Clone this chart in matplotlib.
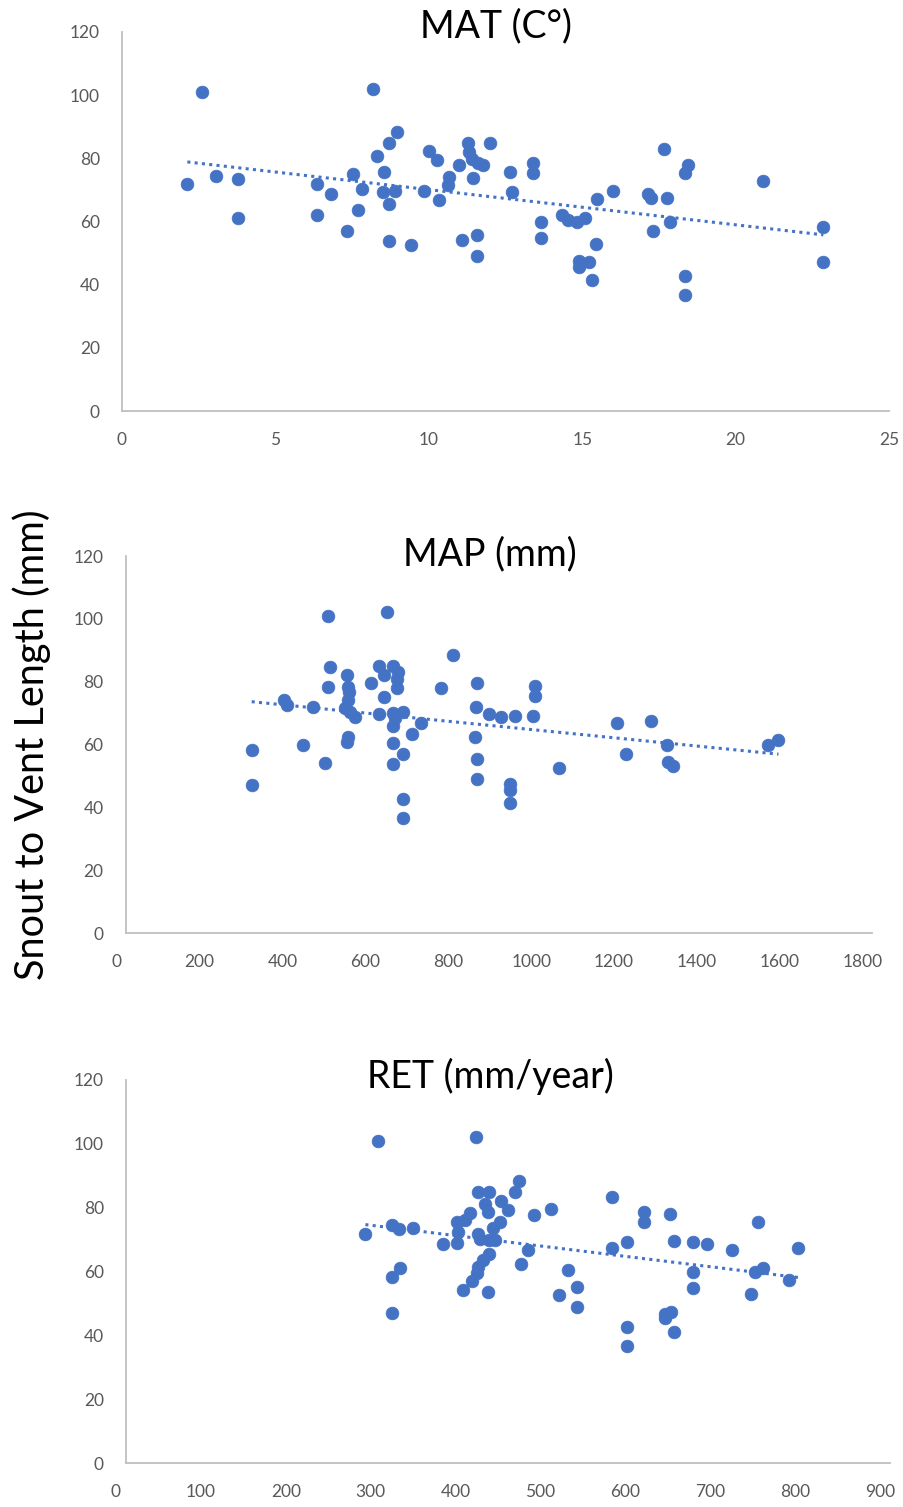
import numpy as np
import matplotlib
matplotlib.use("Agg")
import matplotlib.pyplot as plt
from matplotlib.transforms import ScaledTranslation

plt.rcParams['font.family'] = ['Lato', 'DejaVu Sans']

# ---------------- data ----------------
mat_x = [2.6, 8.19, 2.13, 3.06, 3.79, 3.79, 6.35, 6.35, 6.81, 7.54, 7.83, 7.70, 7.34,
         8.30, 8.71, 8.95, 8.54, 8.52, 8.90, 8.71, 8.71, 9.42, 9.84, 10.02, 10.28, 10.33,
         10.67, 10.62, 10.98, 11.27, 11.32, 11.40, 11.61, 11.78, 12.0, 11.45, 11.09, 11.56,
         11.56, 12.65, 12.70, 13.41, 13.41, 13.65, 13.65, 14.35, 14.55, 14.84, 15.09, 15.47,
         16.01, 14.9, 14.9, 15.23, 15.44, 15.31, 17.15, 17.23, 17.75, 17.67, 18.35, 18.46,
         17.86, 17.32, 18.35, 18.35, 20.9, 22.86, 22.86]
mat_y = [101, 102.1, 72, 74.4, 73.3, 61.2, 72, 62.2, 68.6, 75.1, 70.4, 63.5, 57.1,
         80.7, 84.9, 88.4, 75.7, 69.3, 69.8, 65.6, 53.7, 52.6, 69.8, 82.2, 79.6, 66.9,
         74.1, 71.4, 78, 84.9, 82, 79.9, 78.5, 77.8, 84.9, 73.9, 54.2, 55.6,
         49, 75.7, 69.3, 78.6, 75.5, 60, 54.8, 62.2, 60.5, 59.8, 61.2, 67,
         69.6, 47.4, 45.5, 47.1, 52.9, 41.5, 68.6, 67.4, 67.5, 83.1, 75.3, 78,
         60, 57.1, 42.6, 36.8, 72.8, 58.4, 47.3]

map_x = [304, 304, 382, 390, 452, 427, 480, 488, 493, 488, 533, 537, 539, 537, 529, 541,
         553, 537, 533, 593, 611, 624, 624, 611, 630, 646, 658, 654, 654, 646, 670, 650,
         646, 646, 670, 646, 690, 712, 670, 670, 760, 790, 847, 845, 843, 847, 847, 877,
         906, 940, 928, 928, 928, 987, 987, 983, 1045, 1185, 1206, 1267, 1307, 1309, 1321,
         1550, 1575]
map_y = [58.1, 47.2, 74.1, 72.7, 72, 60, 54.2, 101, 84.8, 78.4, 82.1, 78.4, 76.8, 74.1,
         71.5, 70.4, 68.8, 62.4, 60.8, 79.6, 85, 82.1, 75, 69.6, 102.3, 85, 83.2, 81, 77.9,
         69.9, 70.4, 68.3, 65.8, 60.5, 57.1, 53.7, 63.3, 66.9, 42.5, 36.6, 77.9, 88.5, 79.6,
         72, 62.4, 55.3, 48.9, 69.6, 68.8, 69.1, 47.5, 45.6, 41.3, 78.6, 75.4, 69.1, 52.5,
         66.9, 57.1, 67.5, 60, 54.4, 53, 60, 61.3]

ret_x = [297, 412, 282, 313, 322, 338, 323, 313, 313, 373, 390, 391, 390, 405, 399, 397,
         415, 428, 423, 426, 442, 450, 458, 463, 440, 432, 415, 417, 428, 435, 428, 421,
         415, 413, 408, 427, 481, 501, 473, 465, 521, 531, 510, 531, 573, 573, 590, 610,
         610, 641, 645, 668, 684, 668, 668, 714, 745, 741, 750, 736, 781, 792, 635, 642,
         635, 645, 590, 590]
ret_y = [101, 102.2, 71.8, 74.5, 73.2, 73.7, 61.2, 58.2, 47, 68.5, 75.5, 72.4, 69, 78.4,
         76, 54.3, 84.9, 84.9, 81.3, 78.6, 82, 79.4, 84.9, 88.3, 75.5, 73.7, 71.8, 70.3, 70,
         69.9, 65.6, 63.5, 61.4, 59.5, 57, 53.5, 77.8, 79.7, 66.8, 62.2, 60.5, 55.3, 52.5,
         49, 83.2, 67.5, 69.2, 78.6, 75.5, 77.9, 69.7, 69.2, 68.7, 60, 54.8, 66.8, 75.5,
         59.8, 61.2, 53, 57.2, 67.5, 46.7, 47.2, 45.5, 41.2, 42.5, 36.8]

titles = ["MAT (C°)", "MAP (mm)", "RET (mm/year)"]
y_ticks = [0, 20, 40, 60, 80, 100, 120]
mat_ticks = [0, 5, 10, 15, 20, 25]
map_ticks = [0, 200, 400, 600, 800, 1000, 1200, 1400, 1600, 1800]
ret_ticks = [0, 100, 200, 300, 400, 500, 600, 700, 800, 900]
y_label = "Snout to Vent Length (mm)"

# ---------------- figure ----------------
W, H = 904, 1507
fig = plt.figure(figsize=(W / 100, H / 100), dpi=100)
fig.patch.set_facecolor("white")

blue = "#4472C4"
tick_col = "#595959"
spine_col = "#BFBFBF"

def px_axes(left, right, bottom, top):
    return fig.add_axes([left / W, 1 - bottom / H, (right - left) / W, (bottom - top) / H])

panels = [
    dict(x=mat_x, y=mat_y, ticks=mat_ticks, xlim=(0, 25), box=(122, 889, 411, 32),
         title=titles[0], tpos=(496, 26), xshift=0),
    dict(x=map_x, y=map_y, ticks=map_ticks, xlim=(0, 1800), box=(125.7, 871.7, 933, 556),
         title=titles[1], tpos=(490, 554), xshift=-9),
    dict(x=ret_x, y=ret_y, ticks=ret_ticks, xlim=(0, 900), box=(126, 890, 1463, 1080),
         title=titles[2], tpos=(490, 1076), xshift=-10),
]

for p in panels:
    ax = px_axes(*p["box"])
    ax.set_facecolor("none")
    x = np.array(p["x"], dtype=float)
    y = np.array(p["y"], dtype=float)
    ax.scatter(x, y, s=84, color=blue, edgecolors=blue, linewidths=0.5, zorder=3)
    k, b = np.polyfit(x, y, 1)
    xx = np.array([x.min(), x.max()])
    ax.plot(xx, k * xx + b, color=blue, lw=2.2, linestyle=(0, (1, 1.4)), zorder=2)
    ax.set_xlim(*p["xlim"])
    ax.set_ylim(0, 120)
    ax.set_xticks(p["ticks"])
    ax.set_yticks(y_ticks)
    for s in ["top", "right"]:
        ax.spines[s].set_visible(False)
    for s in ["left", "bottom"]:
        ax.spines[s].set_color(spine_col)
        ax.spines[s].set_linewidth(1.3)
    ax.tick_params(axis="both", length=0, labelsize=12.5, labelcolor=tick_col)
    ax.tick_params(axis="y", pad=16)
    ax.tick_params(axis="x", pad=15)
    if p["xshift"]:
        off = ScaledTranslation(p["xshift"] / 100, 0, fig.dpi_scale_trans)
        for lab in ax.get_xticklabels():
            lab.set_transform(lab.get_transform() + off)
    fig.text(p["tpos"][0] / W, 1 - p["tpos"][1] / H, p["title"], ha="center", va="center",
             fontsize=27, color="black")

fig.text(32 / W, 1 - 745 / H, y_label, rotation=90, ha="center", va="center",
         fontsize=28.5, color="black")

fig.savefig("out.png", dpi=100, facecolor="white")
